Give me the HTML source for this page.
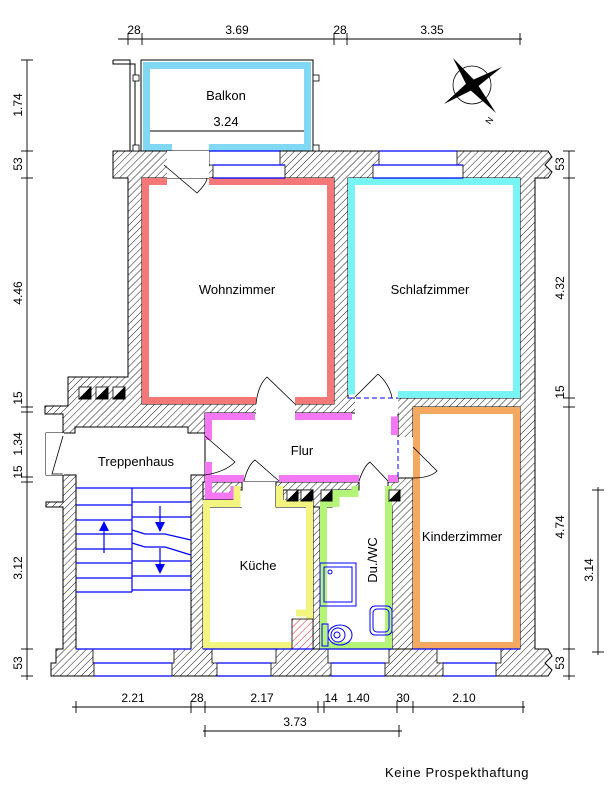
<!DOCTYPE html>
<html><head><meta charset="utf-8"><style>
html,body{margin:0;padding:0;background:#fff;}
svg{display:block;}
text{font-family:"Liberation Sans",sans-serif;fill:#000;}
</style></head><body>
<svg width="610" height="802" viewBox="0 0 610 802" xmlns="http://www.w3.org/2000/svg">
<defs>
<pattern id="h" patternUnits="userSpaceOnUse" width="5" height="5" patternTransform="rotate(45)">
<rect width="5" height="5" fill="#fff"/>
<line x1="0" y1="0" x2="0" y2="5" stroke="#000" stroke-width="0.9"/>
</pattern>
<pattern id="hr" patternUnits="userSpaceOnUse" width="5" height="5" patternTransform="rotate(45)">
<rect width="5" height="5" fill="#fff"/>
<line x1="0" y1="0" x2="0" y2="5" stroke="#e00" stroke-width="0.9"/>
</pattern>
</defs>

<polygon fill="url(#h)" stroke="#000" stroke-width="1" points="113,151 548,151 552,157 545,165 552,172 548,178 535,178 535,649 548,649 552,656 545,663 552,670 548,676 51,676 51,663 56,663 56,649 63,649 63,507 46,507 46,502 63,502 63,475 46,475 46,433 63,433 63,414 45,414 45,406 68,406 68,377 128,377 128,178 113,178"/>

<g fill="#fff" stroke="#000" stroke-width="1">
<rect x="142" y="178" width="192" height="226"/>
<rect x="348" y="178" width="172" height="220"/>
<rect x="413" y="407" width="107" height="242"/>
<polygon points="75,427 188,427 188,433 205,433 205,475 191,475 191,649 76,649 76,475 63,475 63,433 75,433"/>
<rect x="205" y="413" width="193" height="69"/>
<rect x="203" y="507" width="110" height="142"/>
<rect x="242" y="482" width="34" height="26" stroke="none"/>
<polygon points="203,482 242,482 242,507 203,507" stroke="none"/>
<rect x="320" y="490" width="72" height="159"/>
<rect x="359" y="481" width="29" height="10" stroke="none"/>
<rect x="256" y="403" width="39" height="11" stroke="none"/>
<rect x="355" y="397" width="43" height="17" stroke="none"/>
<rect x="397" y="437" width="17" height="41" stroke="none"/>
<rect x="46" y="433" width="18" height="42" stroke="none"/>
</g>
<polygon fill="url(#h)" stroke="#000" points="276,482 359,482 359,490 332,490 332,507 313,507 313,490 283,490 283,507 276,507"/>
<polygon fill="url(#h)" stroke="#000" points="388,482 398,482 398,478 413,478 413,649 392,649 392,507 388,507"/>
<polygon fill="url(#h)" stroke="#000" points="205,482 203,482 203,500 233,500 233,490 242,490 242,482"/>
<polygon fill="url(#h)" stroke="#000" points="313,507 320,507 320,649 313,649"/>

<g fill="none" stroke-width="7">
<path d="M167,181.5 H145.5 V400.5 H256 M295,400.5 H330.5 V181.5 H209" stroke="#f47878"/>
<path d="M398,394.5 H516.5 V181.5 H351.5 V394.5" stroke="#78f4f4"/>
<path d="M416.5,478 V410.5 H516.5 V645.5 H416.5 V478" stroke="#f4a860"/>
<path d="M255,416.5 H208.5 V440 M295,416.5 H352 M394.5,416.5 V435 M208.5,462 V478.5 H244 M279,478.5 H359 M388,478.5 H398 M208.5,478.5 V496 H234 V486" stroke="#f478f4"/>
<path d="M237,486 V503.5 H206.5 V645.5 H309.5 V613 H296" stroke="#f4f480"/>
<path d="M279.5,486 V503.5 H309.5 V613" stroke="#f4f480"/>
<path d="M355,486 V493.5 H336 V503.5 H323.5 V645.5 H388.5 V493.5 V486" stroke="#b4f478"/>
<path d="M172,147.5 H146.5 V65.5 H307.5 V147.5 H209" stroke="#80d8f4"/>
</g>
<rect x="292" y="619" width="21" height="30" fill="url(#hr)" stroke="#000" stroke-width="0.8"/>

<rect x="141" y="60" width="172" height="91" fill="none" stroke="#000"/>
<line x1="150" y1="131" x2="304" y2="131" stroke="#000"/>
<polyline points="113,60 130,60 130,151 135,151 135,64 113,64 113,60" fill="none" stroke="#000"/>
<g fill="#fff" stroke="#000" stroke-width="0.8">
<rect x="133" y="75" width="6" height="6"/><rect x="133" y="145" width="6" height="6"/>
<rect x="313" y="75" width="6" height="6"/><rect x="313" y="145" width="6" height="6"/>
</g>

<g fill="#fff" stroke="#000" stroke-width="0.8">
<rect x="209" y="151" width="71" height="14"/><rect x="213" y="165" width="72" height="13"/>
<rect x="379" y="151" width="78" height="14"/><rect x="373" y="165" width="90" height="13"/>
<rect x="167" y="151" width="42" height="27" stroke="none"/>
</g>
<g stroke="#00f" stroke-width="1.2">
<line x1="209" y1="151" x2="280" y2="151"/><line x1="213" y1="165" x2="285" y2="165"/><line x1="213" y1="178" x2="285" y2="178"/>
<line x1="379" y1="151" x2="457" y2="151"/><line x1="373" y1="165" x2="463" y2="165"/><line x1="373" y1="178" x2="463" y2="178"/>
</g>
<g fill="#fff" stroke="#000" stroke-width="0.8">
<rect x="93" y="649" width="81" height="14"/><rect x="94" y="663" width="78" height="13"/>
<rect x="212" y="649" width="64" height="14"/><rect x="217" y="663" width="54" height="13"/>
<rect x="328" y="649" width="61" height="14"/><rect x="331" y="663" width="54" height="13"/>
<rect x="437" y="649" width="64" height="14"/><rect x="443" y="663" width="53" height="13"/>
</g>
<g stroke="#00f" stroke-width="1.2">
<line x1="76" y1="649" x2="191" y2="649"/><line x1="94" y1="663" x2="172" y2="663"/><line x1="94" y1="676" x2="172" y2="676"/>
<line x1="203" y1="649" x2="313" y2="649"/><line x1="217" y1="663" x2="271" y2="663"/><line x1="217" y1="676" x2="271" y2="676"/>
<line x1="320" y1="649" x2="392" y2="649"/><line x1="331" y1="663" x2="385" y2="663"/><line x1="331" y1="676" x2="385" y2="676"/>
<line x1="413" y1="649" x2="520" y2="649"/><line x1="443" y1="663" x2="496" y2="663"/><line x1="443" y1="676" x2="496" y2="676"/>
</g>

<g fill="none" stroke="#000" stroke-width="0.8">
<path d="M164,165 L197,193 Q207,183 207,178"/>
<path d="M256,404 Q258,385 267,377 L295,404"/>
<path d="M355,397 L378,374 Q390,385 392,398"/>
<path d="M205,436 L235,462 Q225,472 205,475"/>
<path d="M244,481 Q248,465 255,460 L279,481"/>
<path d="M359,481 Q364,466 370,462 L388,481"/>
<path d="M413,447 L437,471 Q430,478 413,478"/>
<path d="M63,436 L52,474 H63"/>
</g>
<g stroke="#00f" stroke-width="1" stroke-dasharray="5,3">
<line x1="348" y1="398" x2="398" y2="398"/>
<line x1="398" y1="440" x2="398" y2="478"/>
</g>

<g stroke="#000" stroke-width="0.8">
<g><rect x="79" y="387" width="12" height="12" fill="#fff"/><polygon points="79,399 91,387 91,399" fill="#000"/></g>
<g><rect x="96" y="387" width="12" height="12" fill="#fff"/><polygon points="96,399 108,387 108,399" fill="#000"/></g>
<g><rect x="113" y="387" width="12" height="12" fill="#fff"/><polygon points="113,399 125,387 125,399" fill="#000"/></g>
<g><rect x="287" y="490" width="11" height="11" fill="#fff"/><polygon points="287,501 298,490 298,501" fill="#000"/></g>
<g><rect x="301" y="490" width="11" height="11" fill="#fff"/><polygon points="301,501 312,490 312,501" fill="#000"/></g>
<g><rect x="321" y="490" width="11" height="11" fill="#fff"/><polygon points="321,501 332,490 332,501" fill="#000"/></g>
<g><rect x="389" y="490" width="11" height="11" fill="#fff"/><polygon points="389,501 400,490 400,501" fill="#000"/></g>
</g>

<g stroke="#00f" stroke-width="1.2" fill="none">
<line x1="76" y1="488" x2="191" y2="488"/>
<line x1="132" y1="488" x2="132" y2="592"/>
<line x1="76" y1="505" x2="132" y2="505"/><line x1="76" y1="520" x2="132" y2="520"/>
<line x1="76" y1="534" x2="132" y2="534"/><line x1="76" y1="549" x2="132" y2="549"/>
<line x1="76" y1="563" x2="132" y2="563"/><line x1="76" y1="578" x2="132" y2="578"/><line x1="76" y1="592" x2="132" y2="592"/>
<line x1="132" y1="502" x2="191" y2="502"/><line x1="132" y1="517" x2="191" y2="517"/>
<path d="M132,530 L145,534 H165 L191,540"/><path d="M132,543 L145,547 H165 L191,555"/>
<line x1="132" y1="561" x2="191" y2="561"/><line x1="132" y1="576" x2="191" y2="576"/><line x1="132" y1="590" x2="191" y2="590"/>
<line x1="104" y1="530" x2="104" y2="553"/>
<line x1="160" y1="506" x2="160" y2="525"/><line x1="160" y1="548" x2="160" y2="565"/>
</g>
<g fill="#00f">
<polygon points="104,521 99,531 109,531"/>
<polygon points="160,532 155,522 165,522"/>
<polygon points="160,574 155,564 165,564"/>
</g>

<g fill="none" stroke="#00f" stroke-width="1">
<rect x="320" y="563" width="36" height="43"/><rect x="324" y="567" width="28" height="35"/>
<circle cx="330" cy="572" r="2"/>
<rect x="322" y="624" width="6" height="22"/>
<ellipse cx="340" cy="635" rx="12" ry="10"/><ellipse cx="338" cy="635" rx="7" ry="7"/><circle cx="337" cy="635" r="3"/>
<rect x="370" y="606" width="22" height="29" rx="5"/><rect x="373" y="609" width="16" height="23" rx="4"/>
</g>

<g>
<circle cx="472" cy="85" r="19" fill="none" stroke="#000" stroke-width="0.8"/>
<polygon points="453,58 476,82 496,113 468,88" fill="#000"/>
<polygon points="502,67 476,88 444,104 468,82" fill="#000"/>
<text x="0" y="0" font-size="9" transform="translate(490,125) rotate(-55)">N</text>
</g>

<g font-size="13" text-anchor="middle">
<text x="226" y="100">Balkon</text>
<text x="226" y="126">3.24</text>
<text x="237" y="294">Wohnzimmer</text>
<text x="430" y="294">Schlafzimmer</text>
<text x="302" y="455">Flur</text>
<text x="136" y="466">Treppenhaus</text>
<text x="258" y="570">Küche</text>
<text x="462" y="541">Kinderzimmer</text>
<text x="0" y="0" transform="translate(377,560) rotate(-90)">Du./WC</text>
</g>
<text x="385" y="777" font-size="13" letter-spacing="0.6">Keine  Prospekthaftung</text>

<g stroke="#000" stroke-width="0.9">
<line x1="118" y1="39" x2="522" y2="39"/>
<line x1="128" y1="33" x2="128" y2="45"/><line x1="142" y1="33" x2="142" y2="45"/>
<line x1="334" y1="33" x2="334" y2="45"/><line x1="347" y1="33" x2="347" y2="45"/><line x1="520" y1="33" x2="520" y2="45"/>
<line x1="27" y1="60" x2="27" y2="680"/>
<line x1="21" y1="60" x2="33" y2="60"/><line x1="21" y1="151" x2="33" y2="151"/><line x1="21" y1="178" x2="33" y2="178"/>
<line x1="21" y1="407" x2="33" y2="407"/><line x1="21" y1="412" x2="33" y2="412"/>
<line x1="21" y1="477" x2="33" y2="477"/><line x1="21" y1="482" x2="33" y2="482"/>
<line x1="21" y1="649" x2="33" y2="649"/><line x1="21" y1="676" x2="33" y2="676"/>
<line x1="569" y1="151" x2="569" y2="680"/>
<line x1="563" y1="151" x2="575" y2="151"/><line x1="563" y1="178" x2="575" y2="178"/>
<line x1="563" y1="398" x2="575" y2="398"/><line x1="563" y1="407" x2="575" y2="407"/>
<line x1="563" y1="649" x2="575" y2="649"/><line x1="563" y1="676" x2="575" y2="676"/>
<line x1="598" y1="487" x2="598" y2="655"/>
<line x1="592" y1="490" x2="604" y2="490"/><line x1="592" y1="652" x2="604" y2="652"/>
<line x1="72" y1="707" x2="525" y2="707"/>
<line x1="76" y1="701" x2="76" y2="713"/><line x1="191" y1="701" x2="191" y2="713"/><line x1="205" y1="701" x2="205" y2="713"/>
<line x1="318" y1="701" x2="318" y2="713"/><line x1="324" y1="701" x2="324" y2="713"/><line x1="397" y1="701" x2="397" y2="713"/>
<line x1="413" y1="701" x2="413" y2="713"/><line x1="523" y1="701" x2="523" y2="713"/>
<line x1="203" y1="731" x2="402" y2="731"/>
<line x1="205" y1="725" x2="205" y2="737"/><line x1="399" y1="725" x2="399" y2="737"/>
</g>
<g font-size="12" text-anchor="middle">
<text x="134" y="34">28</text><text x="237" y="34">3.69</text><text x="340" y="34">28</text><text x="432" y="34">3.35</text>
<text x="133" y="702">2.21</text><text x="197" y="702">28</text><text x="262" y="702">2.17</text>
<text x="331" y="702">14</text><text x="358" y="702">1.40</text><text x="403" y="702">30</text><text x="464" y="702">2.10</text>
<text x="295" y="726">3.73</text>
</g>
<g font-size="12" text-anchor="middle">
<text transform="translate(22,105) rotate(-90)">1.74</text>
<text transform="translate(22,164) rotate(-90)">53</text>
<text transform="translate(22,293) rotate(-90)">4.46</text>
<text transform="translate(22,398) rotate(-90)">15</text>
<text transform="translate(22,444) rotate(-90)">1.34</text>
<text transform="translate(22,472) rotate(-90)">15</text>
<text transform="translate(22,568) rotate(-90)">3.12</text>
<text transform="translate(22,663) rotate(-90)">53</text>
<text transform="translate(564,164) rotate(-90)">53</text>
<text transform="translate(564,288) rotate(-90)">4.32</text>
<text transform="translate(564,392) rotate(-90)">15</text>
<text transform="translate(564,527) rotate(-90)">4.74</text>
<text transform="translate(564,663) rotate(-90)">53</text>
<text transform="translate(593,570) rotate(-90)">3.14</text>
</g>
</svg>
</body></html>
